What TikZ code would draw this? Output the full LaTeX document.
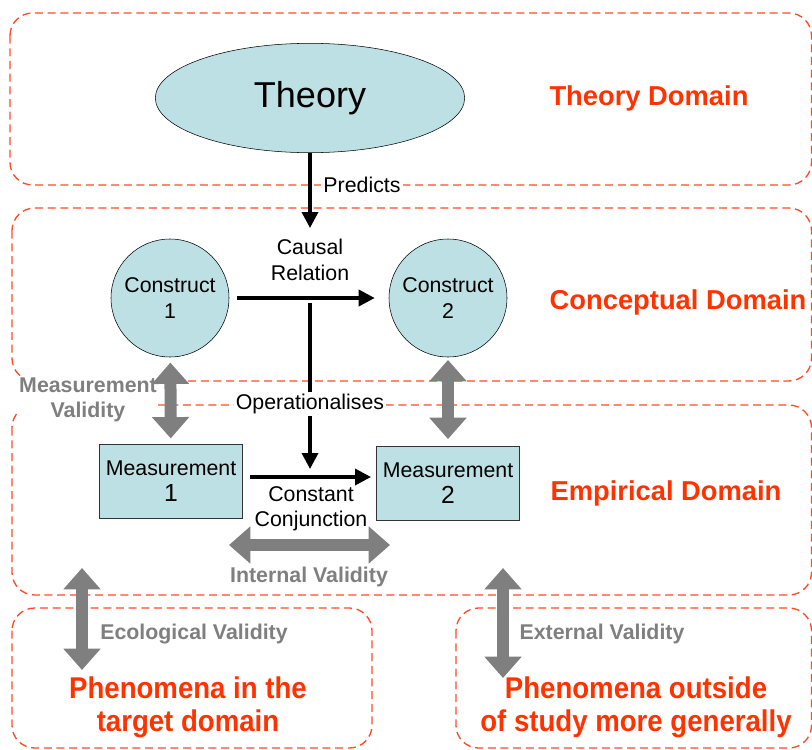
\documentclass[tikz,border=0pt]{standalone}
\usepackage{fontspec}
\setmainfont{Liberation Sans}
\newfontfamily\narrowsans[FakeStretch=0.92]{Liberation Sans}
\usetikzlibrary{arrows.meta,shapes.geometric}
\definecolor{domainred}{HTML}{FF3300}
\definecolor{dashred}{HTML}{FF4A28}
\definecolor{bubble}{HTML}{BCE0E3}
\definecolor{validgrey}{HTML}{7F7F7F}
\tikzset{
  domainbox/.style={draw=dashred, line width=1pt, dash pattern=on 6pt off 3.5pt, rounded corners=17pt},
  domainlabel/.style={text=domainred, font=\fontsize{20.5}{24}\selectfont\bfseries},
  phenlabel/.style={text=domainred, font=\narrowsans\fontsize{22.5}{24.5}\selectfont\bfseries, align=center},
  construct/.style={circle, draw, fill=bubble, minimum size=88.5pt, inner sep=0pt, align=center, font=\fontsize{16}{19}\selectfont},
  measure/.style={rectangle, draw=black!80, fill=bubble, minimum width=107pt, minimum height=55.5pt, inner sep=0pt, align=center, font=\fontsize{16}{20}\selectfont},
  linklabel/.style={align=center, font=\fontsize{16}{19}\selectfont, inner sep=1.5pt},
  validlabel/.style={text=validgrey, align=center, font=\fontsize{16}{18.5}\selectfont\bfseries, inner sep=1pt},
  linkarrow/.style={-{Triangle[length=12pt,width=12pt]}, line width=2.6pt},
  validarrow/.style={{Triangle[length=16pt,width=27pt]}-{Triangle[length=16pt,width=27pt]}, line width=9pt, draw=validgrey},
}
\begin{document}
\begin{tikzpicture}[x=0.75pt,y=-0.75pt]
  \useasboundingbox (0,0) rectangle (812,749);
  % domains
  \draw[domainbox] (10,13) rectangle (811.5,185);
  \draw[domainbox] (12,208) rectangle (811.5,381);
  \draw[domainbox] (12,405) rectangle (811.5,595);
  \draw[domainbox] (12,608) rectangle (372,748);
  \draw[domainbox] (456,608) rectangle (811.5,748);
  \node[domainlabel] (theorydom) at (649,98) {Theory Domain};
  \node[domainlabel] (conceptdom) at (678,302) {Conceptual Domain};
  \node[domainlabel] (empiricdom) at (666,493) {Empirical Domain};
  \node[phenlabel] (phentarget) at (188,707) {Phenomena in the\\target domain};
  \node[phenlabel] (phenoutside) at (636,707) {Phenomena outside\\of study more generally};

  % theory, constructs and measurements
  \node[ellipse, draw, fill=bubble, minimum width=232pt, minimum height=82pt,
        font=\fontsize{27}{30}\selectfont] (theory) at (310,98) {Theory};
  \node[construct] (c1) at (170,298) {Construct\\1};
  \node[construct] (c2) at (448,298) {Construct\\2};
  \node[measure] (m1) at (171,481) {Measurement\\{\fontsize{18.5}{20}\selectfont 1}};
  \node[measure] (m2) at (448,483) {Measurement\\{\fontsize{18.5}{20}\selectfont 2}};

  % free ends
  \coordinate (predend) at (310,228);
  \coordinate (opstart) at (310,303);
  \coordinate (opend) at (310,469);
  \coordinate (ccstart) at (250,477);
  \coordinate (ccend) at (371,477);
  \coordinate (intleft) at (229,545);
  \coordinate (intright) at (390,545);
  \coordinate (ecotop) at (82,568);
  \coordinate (ecobot) at (82,670);
  \coordinate (exttop) at (503,568);
  \coordinate (extbot) at (503,678);

  % black links
  \draw[linkarrow] (theory) -- (predend);
  \node[linklabel, fill=white] (predicts) at (362,185) {Predicts};
  \draw[linkarrow, shorten <=6pt, shorten >=10.5pt] (c1) -- (c2);
  \node[linklabel] (causal) at (310,260) {Causal\\Relation};
  \draw[linkarrow] (opstart) -- (opend);
  \node[linklabel, fill=white] (operational) at (310,404) {Operationalises};
  \draw[linkarrow] (ccstart) -- (ccend);
  \node[linklabel] (conjunction) at (311,509) {Constant\\Conjunction};

  % validity arrows
  \node[validlabel, fill=white] (measvalid) at (88,400) {Measurement\\Validity};
  \draw[validarrow, shorten <=4pt, shorten >=4pt] (c1) -- (m1);
  \draw[validarrow, shorten <=2pt, shorten >=5pt] (c2) -- (m2);
  \draw[validarrow] (intleft) -- (intright);
  \node[validlabel] (intvalid) at (309,577) {Internal Validity};
  \draw[validarrow] (ecotop) -- (ecobot);
  \node[validlabel] (ecovalid) at (194,634) {Ecological Validity};
  \draw[validarrow] (exttop) -- (extbot);
  \node[validlabel] (extvalid) at (602,634) {External Validity};
\end{tikzpicture}
\end{document}
